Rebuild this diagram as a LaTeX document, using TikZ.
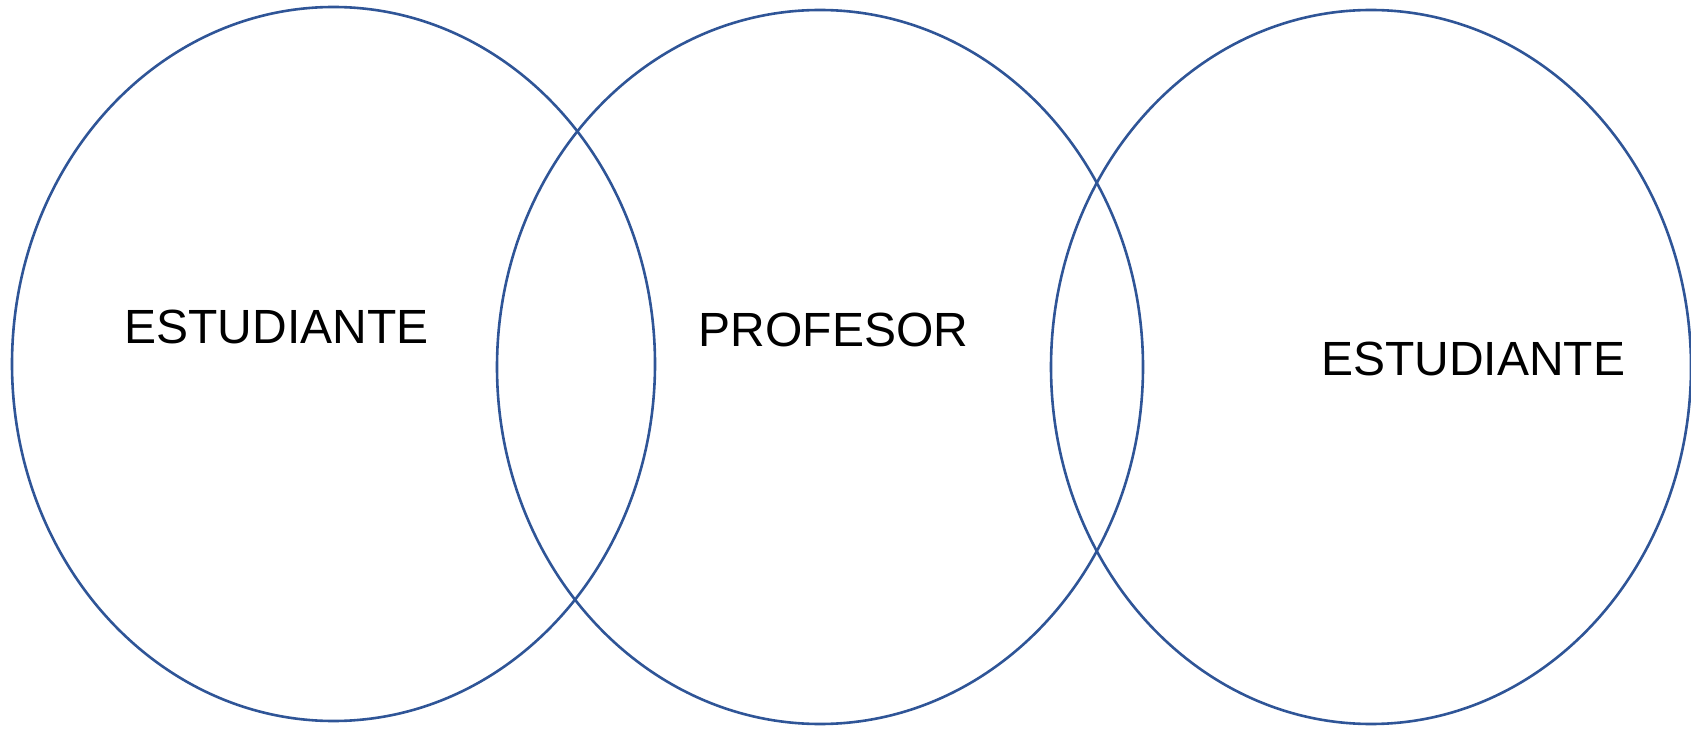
\documentclass[tikz,border=0pt]{standalone}
\usepackage{fontspec}
\setmainfont{Liberation Sans}
\usetikzlibrary{positioning}
\definecolor{vennblue}{RGB}{47,85,151}

\begin{document}
\begin{tikzpicture}[x=1pt, y=1pt,
  venn/.style={draw=vennblue, line width=2.6pt},
  rolelabel/.style={inner sep=0pt, font=\fontsize{48}{57}\selectfont}]
\useasboundingbox (0, 0) rectangle (1691, 729);
% Three overlapping sets
\draw[venn] (333.5, 365) ellipse [x radius=321.5, y radius=357];
\draw[venn] (820, 362) ellipse [x radius=323, y radius=357];
\draw[venn] (1371, 362) ellipse [x radius=320, y radius=357];

% Labels
\node[rolelabel] (est1) at (276.5, 402.5) {ESTUDIANTE};
\node[rolelabel] (prof) at (833.5, 399.5) {PROFESOR};
\node[rolelabel] (est2) at (1473, 370) {ESTUDIANTE};
\end{tikzpicture}
\end{document}
